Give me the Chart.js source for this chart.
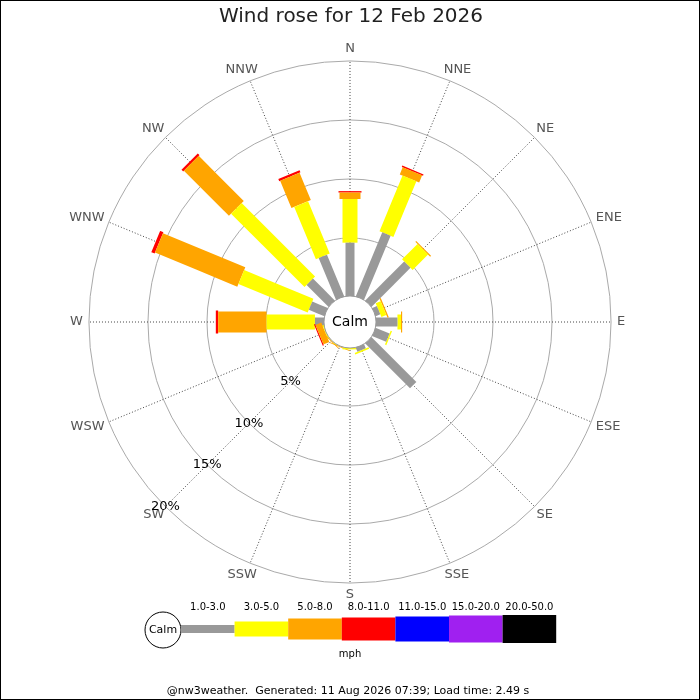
<!DOCTYPE html>
<html>
<head>
<title>Wind rose</title>
<script src="https://cdn.jsdelivr.net/npm/chart.js"></script>
<style>
body { margin: 0; background: #fff; }
</style>
</head>
<body>
<canvas id="rose" width="700" height="700"></canvas>
<script>
// directions, clockwise from north
var directions = ['N','NNE','NE','ENE','E','ESE','SE','SSE','S','SSW','SW','WSW','W','WNW','NW','NNW'];

// speed bands (mph) and how they look
var speedBands = ['1.0-3.0','3.0-5.0','5.0-8.0','8.0-11.0','11.0-15.0','15.0-20.0','20.0-50.0'];
var bandColours = ['#999999','#ffff00','#ffa500','#ff0000','#0000ff','#a020f0','#000000'];

// % of the day from each direction, one array per speed band
var band1to3   = [4.6, 5.95, 4.75, 0.5, 1.9, 1.35, 5.45, 0.45, 0.08, 0.05, 0.05, 0.05, 0.85, 1.5, 2.7, 3.9];
var band3to5   = [3.7, 5.1, 1.85, 0.45, 0.3, 0.12, 0, 0.15, 0.12, 0.05, 0.05, 0.1, 4.1, 6.35, 8.8, 4.8];
var band5to8   = [0.55, 0.65, 0.1, 0.12, 0.1, 0, 0, 0, 0, 0.08, 0.08, 0.53, 4.1, 7.55, 5.4, 2.5];
var band8to11  = [0.12, 0.12, 0, 0, 0, 0, 0, 0, 0, 0, 0, 0.1, 0.2, 0.3, 0.2, 0.2];
var band11to15 = [0, 0, 0, 0, 0, 0, 0, 0, 0, 0, 0, 0, 0, 0, 0, 0];
var band15to20 = [0, 0, 0, 0, 0, 0, 0, 0, 0, 0, 0, 0, 0, 0, 0, 0];
var band20to50 = [0, 0, 0, 0, 0, 0, 0, 0, 0, 0, 0, 0, 0, 0, 0, 0];

var ringTicks = [5, 10, 15, 20];
var ringLabels = ['5%', '10%', '15%', '20%'];

var titleText = 'Wind rose for 12 Feb 2026';
var footerText = '@nw3weather.  Generated: 11 Aug 2026 07:39; Load time: 2.49 s';

var bands = [band1to3, band3to5, band5to8, band8to11, band11to15, band15to20, band20to50];
var bandWidths = [9, 15, 21, 23, 25, 27, 28];
var calmHole = 2.12;   // radius of the calm circle, in % units
var span = 25.42;      // axis half-range, in % units
var FONT = '"DejaVu Sans", sans-serif';

function dirXY(i, r) {
    var a = i * Math.PI / 8;
    return { x: r * Math.sin(a), y: r * Math.cos(a) };
}

// one short line per direction per band, stacked outwards
var datasets = [];
directions.forEach(function(d, i) {
    var from = calmHole;
    bands.forEach(function(band, b) {
        var v = band[i];
        if (!v) return;
        var to = from + v;
        datasets.push({
            label: d + ' ' + speedBands[b],
            data: [dirXY(i, from), dirXY(i, to)],
            showLine: true,
            borderColor: bandColours[b],
            borderWidth: bandWidths[b],
            borderCapStyle: 'butt',
            pointRadius: 0,
            pointHoverRadius: 0,
            // tiny tension keeps chart.js off its fast path, which mangles near-vertical stubs
            tension: 0.0001,
            capBezierPoints: false,
            clip: false
        });
        from = to;
    });
});

function geom(chart) {
    var xs = chart.scales.x, ys = chart.scales.y;
    var cx = xs.getPixelForValue(0), cy = ys.getPixelForValue(0);
    return { cx: cx, cy: cy, px: function(v) { return xs.getPixelForValue(v) - cx; } };
}

var backdrop = {
    id: 'backdrop',
    beforeDraw: function(chart) {
        var ctx = chart.ctx;
        ctx.save();
        ctx.fillStyle = '#fff';
        ctx.fillRect(0, 0, chart.width, chart.height);
        ctx.restore();
    },
    beforeDatasetsDraw: function(chart) {
        var ctx = chart.ctx, g = geom(chart);
        var outer = g.px(calmHole + ringTicks[ringTicks.length - 1]);
        var inner = g.px(calmHole);
        ctx.save();
        // rings
        ctx.strokeStyle = '#aaaaaa';
        ctx.lineWidth = 1;
        ringTicks.forEach(function(t) {
            ctx.beginPath();
            ctx.arc(g.cx, g.cy, g.px(calmHole + t), 0, 2 * Math.PI);
            ctx.stroke();
        });
        // spokes
        ctx.strokeStyle = '#444';
        ctx.setLineDash([1, 2]);
        directions.forEach(function(d, i) {
            var a = i * Math.PI / 8;
            ctx.beginPath();
            ctx.moveTo(g.cx + inner * Math.sin(a), g.cy - inner * Math.cos(a));
            ctx.lineTo(g.cx + outer * Math.sin(a), g.cy - outer * Math.cos(a));
            ctx.stroke();
        });
        ctx.setLineDash([]);
        // compass labels, pushed out so the near edge sits just off the ring
        ctx.fillStyle = '#555';
        ctx.font = '13px ' + FONT;
        ctx.textAlign = 'center';
        ctx.textBaseline = 'middle';
        var lr = outer + 6;
        directions.forEach(function(d, i) {
            var a = i * Math.PI / 8;
            var s = Math.sin(a), c = Math.cos(a);
            var w = ctx.measureText(d).width;
            var x = g.cx + lr * s + s * w / 2;
            var y = g.cy - lr * c - c * 6;
            ctx.fillText(d, x, y);
        });
        ctx.restore();
    },
    afterDatasetsDraw: function(chart) {
        var ctx = chart.ctx, g = geom(chart);
        ctx.save();
        // calm circle
        ctx.beginPath();
        ctx.arc(g.cx, g.cy, g.px(calmHole) + 1, 0, 2 * Math.PI);
        ctx.fillStyle = '#fff';
        ctx.fill();
        ctx.strokeStyle = '#999';
        ctx.lineWidth = 1;
        ctx.stroke();
        ctx.fillStyle = '#000';
        ctx.font = '14px ' + FONT;
        ctx.textAlign = 'center';
        ctx.textBaseline = 'middle';
        ctx.fillText('Calm', g.cx, g.cy);
        // ring labels along the SW line
        ctx.font = '13px ' + FONT;
        ringTicks.forEach(function(t, k) {
            var r = g.px(calmHole + t);
            var a = 10 * Math.PI / 8;
            ctx.fillText(ringLabels[k], g.cx + r * Math.sin(a), g.cy - r * Math.cos(a));
        });
        ctx.restore();
    },
    afterDraw: function(chart) {
        var ctx = chart.ctx;
        ctx.save();
        ctx.textAlign = 'center';
        ctx.textBaseline = 'middle';
        ctx.fillStyle = '#222';
        ctx.font = '20px ' + FONT;
        ctx.fillText(titleText, 351, 17);

        // legend
        var lx = 181, ly = 629, bw = 53.6;
        ctx.beginPath();
        ctx.arc(163, ly + 1, 18, 0, 2 * Math.PI);
        ctx.fillStyle = '#fff';
        ctx.fill();
        ctx.strokeStyle = '#000';
        ctx.lineWidth = 1;
        ctx.stroke();
        ctx.fillStyle = '#000';
        ctx.font = '11px ' + FONT;
        ctx.fillText('Calm', 163, ly + 1);
        var legH = [8, 15, 21, 23, 25, 27, 28];
        ctx.font = '10px ' + FONT;
        speedBands.forEach(function(s, b) {
            ctx.fillStyle = bandColours[b];
            ctx.fillRect(lx + b * bw, ly - legH[b] / 2, bw, legH[b]);
            ctx.fillStyle = '#000';
            ctx.fillText(s, lx + b * bw + bw / 2, 607);
        });
        ctx.fillText('mph', 350, 654);

        ctx.font = '11px ' + FONT;
        ctx.fillText(footerText, 348, 691);

        ctx.strokeStyle = '#000';
        ctx.strokeRect(0.5, 0.5, chart.width - 1, chart.height - 1);
        ctx.restore();
    }
};

new Chart(document.getElementById('rose'), {
    type: 'scatter',
    data: { datasets: datasets },
    options: {
        responsive: false,
        animation: false,
        layout: { padding: { left: 50, right: 50, top: 22, bottom: 78 } },
        plugins: {
            legend: { display: false },
            title: { display: false },
            tooltip: { enabled: false }
        },
        scales: {
            x: { type: 'linear', min: -span, max: span, display: false },
            y: { type: 'linear', min: -span, max: span, display: false }
        }
    },
    plugins: [backdrop]
});
</script>
</body>
</html>
